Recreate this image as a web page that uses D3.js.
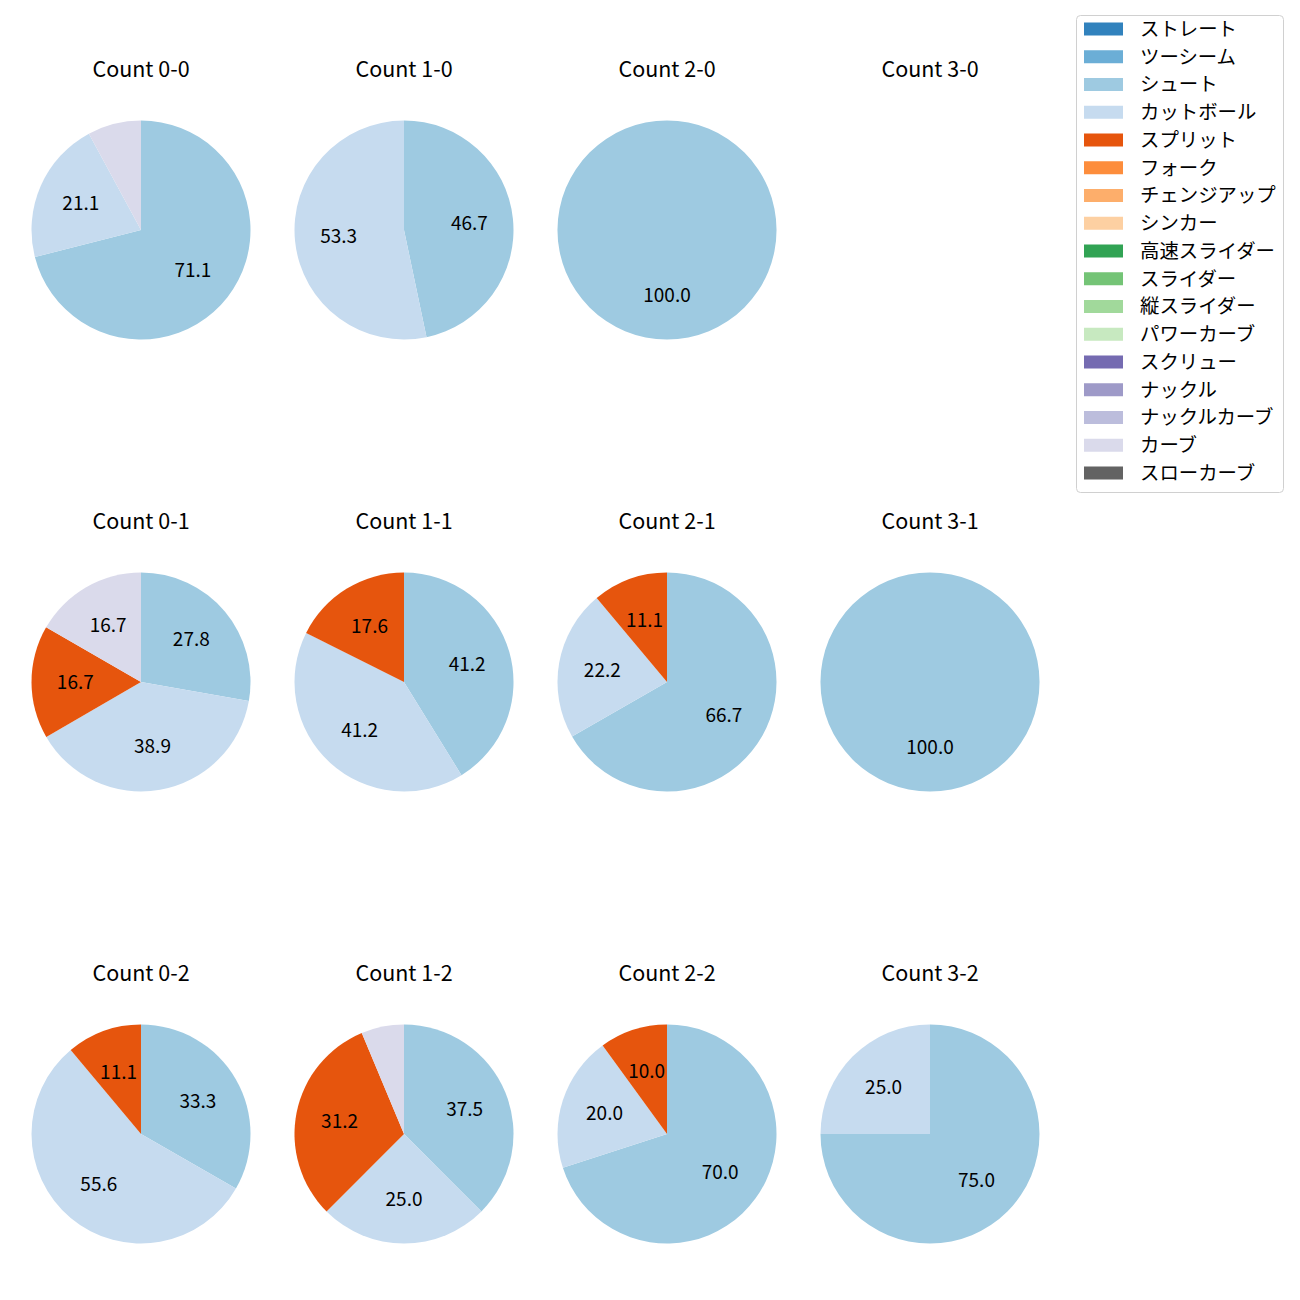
<!DOCTYPE html>
<html>
<head>
<meta charset="utf-8">
<script src="https://cdn.jsdelivr.net/npm/d3@7"></script>
<style>
  html, body { margin: 0; padding: 0; background: #fff; }
  svg { display: block; }
  text { font-family: "Noto Sans CJK JP", "Noto Sans", sans-serif; fill: #000; }
</style>
</head>
<body>
<script>
// ---- data ----
const pitchTypes = ["ストレート","ツーシーム","シュート","カットボール","スプリット","フォーク","チェンジアップ","シンカー","高速スライダー","スライダー","縦スライダー","パワーカーブ","スクリュー","ナックル","ナックルカーブ","カーブ","スローカーブ"];
const pitchColors = ["#3182bd","#6baed6","#9ecae1","#c6dbef","#e6550d","#fd8d3c","#fdae6b","#fdd0a2","#31a354","#74c476","#a1d99b","#c7e9c0","#756bb1","#9e9ac8","#bcbddc","#dadaeb","#636363"];
const countTitles = ["Count 0-0","Count 1-0","Count 2-0","Count 3-0",
                     "Count 0-1","Count 1-1","Count 2-1","Count 3-1",
                     "Count 0-2","Count 1-2","Count 2-2","Count 3-2"];
// percentage share per count (same order as countTitles)
const shoot   = [71.1, 46.7, 100.0, 0, 27.8, 41.2, 66.7, 100.0, 33.3, 37.5, 70.0, 75.0];
const cutball = [21.1, 53.3, 0, 0, 38.9, 41.2, 22.2, 0, 55.6, 25.0, 20.0, 25.0];
const split   = [0, 0, 0, 0, 16.7, 17.6, 11.1, 0, 11.1, 31.2, 10.0, 0];
const curve   = [7.9, 0, 0, 0, 16.7, 0, 0, 0, 0, 6.3, 0, 0];
const seriesByPitch = { "シュート": shoot, "カットボール": cutball, "スプリット": split, "カーブ": curve };

// ---- layout ----
const W = 1300, H = 1300;
const colX = [141, 404, 667, 930];
const rowY = [230, 682, 1134];
const R = 109.5;
const titleOffset = 161;
const labelThreshold = 10;

const svg = d3.select("body").append("svg").attr("width", W).attr("height", H);
const color = d3.scaleOrdinal().domain(pitchTypes).range(pitchColors);

const pie = d3.pie().sort(null).value(d => d.value).startAngle(0).endAngle(2 * Math.PI);
const arc = d3.arc().innerRadius(0).outerRadius(R);
const labelArc = d3.arc().innerRadius(R * 0.6).outerRadius(R * 0.6);

countTitles.forEach((title, i) => {
  const cx = colX[i % 4], cy = rowY[Math.floor(i / 4)];
  const g = svg.append("g").attr("transform", `translate(${cx},${cy})`);
  g.append("text").attr("x", 0).attr("y", -titleOffset).attr("dy", "0.35em")
    .attr("text-anchor", "middle").style("font-size", "21.5px").text(title);
  const data = pitchTypes.map(p => ({ pitch: p, value: seriesByPitch[p] ? seriesByPitch[p][i] : 0 }))
    .filter(d => d.value > 0);
  if (!data.length) return;
  const arcs = pie(data);
  g.selectAll("path.w").data(arcs).join("path").attr("class", "w")
    .attr("d", arc).attr("fill", d => color(d.data.pitch));
  g.selectAll("text.l").data(arcs.filter(d => d.data.value >= labelThreshold)).join("text").attr("class", "l")
    .attr("transform", d => `translate(${labelArc.centroid(d)})`)
    .attr("text-anchor", "middle").attr("dy", "0.35em").style("font-size", "19px")
    .text(d => d.data.value.toFixed(1));
});

// ---- legend ----
const lg = svg.append("g").attr("transform", "translate(1076,15)");
lg.append("rect").attr("x", 0.5).attr("y", 0.5).attr("width", 207).attr("height", 477)
  .attr("rx", 4).attr("fill", "#fff").attr("fill-opacity", 0.8).attr("stroke", "#d0d0d0");
const step = 27.75;
pitchTypes.forEach((p, k) => {
  const y = 14 + k * step;
  lg.append("rect").attr("x", 8).attr("y", y - 6.5).attr("width", 39).attr("height", 13).attr("fill", color(p));
  lg.append("text").attr("x", 64).attr("y", y).attr("dy", "0.35em").style("font-size", "19.4px").text(p);
});
</script>
</body>
</html>
